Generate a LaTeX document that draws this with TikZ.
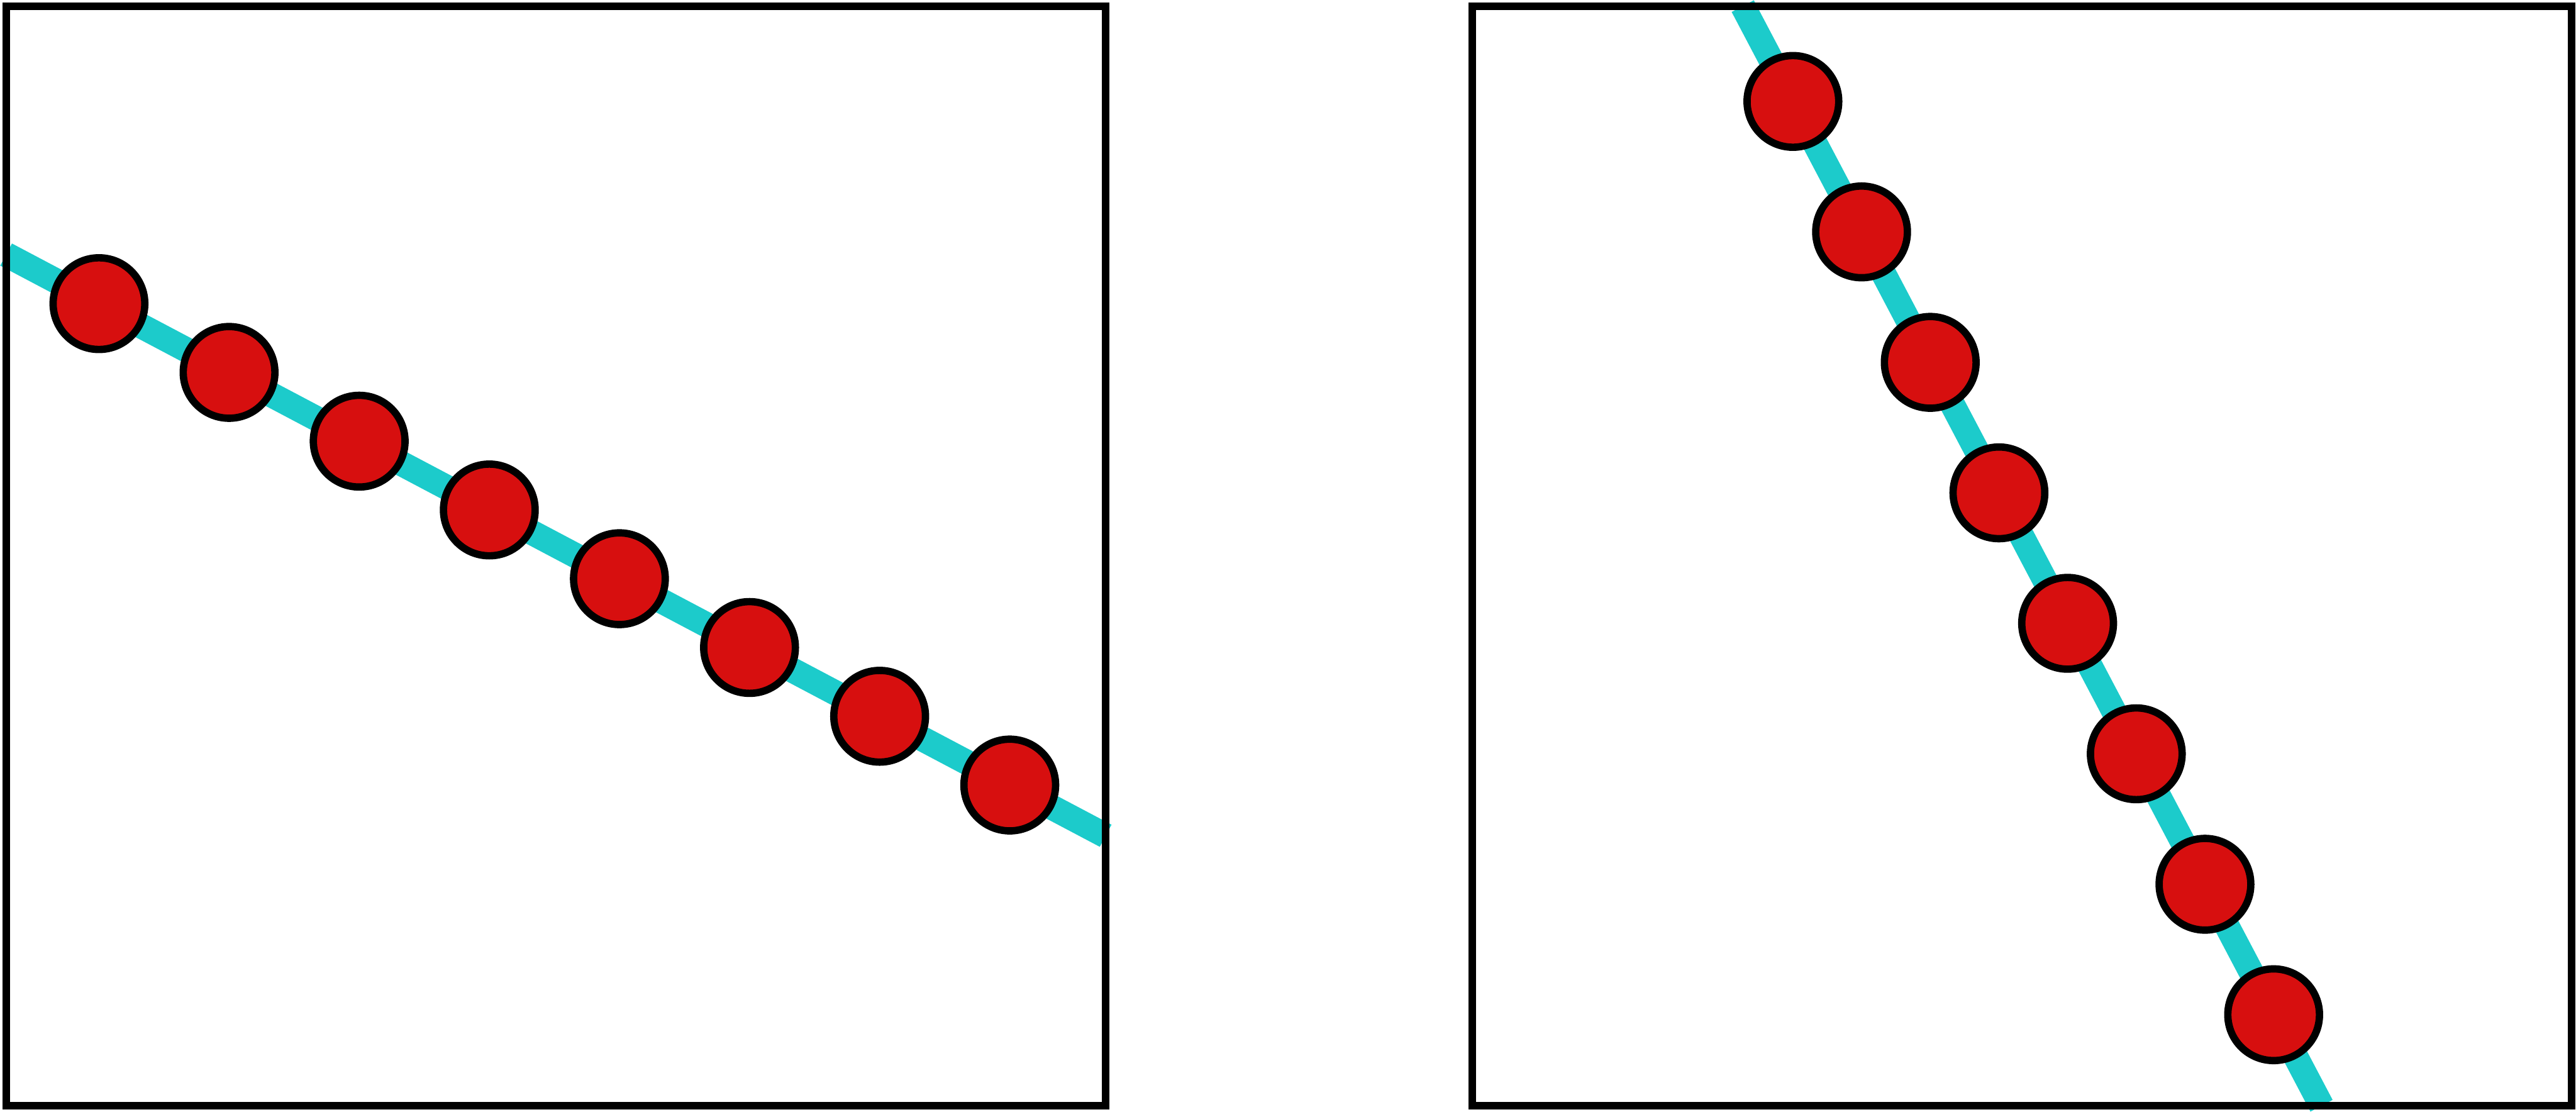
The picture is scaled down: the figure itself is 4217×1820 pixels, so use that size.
\documentclass[tikz,border=0pt]{standalone}
\usetikzlibrary{calc}
\definecolor{ballred}{RGB}{215,15,15}
\definecolor{rodcyan}{RGB}{28,203,203}
\begin{document}
\begin{tikzpicture}[x=0.01cm,y=-0.01cm,
  frame/.style={draw=black,line width=0.12cm},
  rod/.style={draw=rodcyan,line width=0.41cm,line cap=butt},
  ball/.style={circle,draw=black,fill=ballred,line width=0.12cm,minimum size=1.5cm,inner sep=0pt}]
\useasboundingbox (0,0) rectangle (4217,1820);
% left panel
\coordinate (la) at (10,416.7);
\coordinate (lb) at (1810,1368);
\draw[rod] (la) -- (lb);
\draw[frame] (10,10) rectangle (1810,1810);
\foreach \i in {0,...,7}{
  \node[ball] (L\i) at ({162+213*\i},{497+112.57*\i}) {};
}
% right panel
\coordinate (ra) at (2852.9,10);
\coordinate (rb) at (3800.4,1810);
\draw[rod] (ra) -- (rb);
\draw[frame] (2410,10) rectangle (4210,1810);
\foreach \i in {0,...,7}{
  \node[ball] (R\i) at ({2935+112.43*\i},{166+213.57*\i}) {};
}
\end{tikzpicture}
\end{document}
